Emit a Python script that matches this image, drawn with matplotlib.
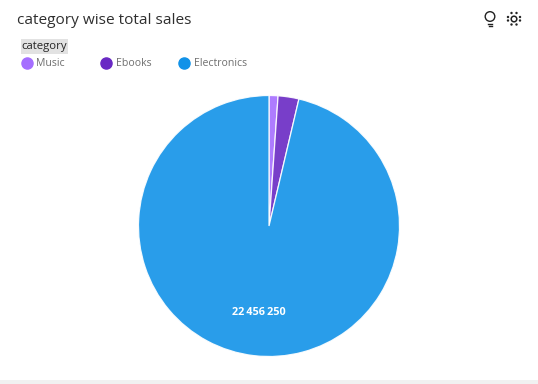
import matplotlib
matplotlib.use('Agg')
from matplotlib import pyplot as plt
from matplotlib.lines import Line2D
from matplotlib.patches import Circle, Rectangle

plt.rcParams['font.family'] = ['Open Sans', 'DejaVu Sans']

# Load our data
categories = ['Music', 'Ebooks', 'Electronics']
total_sales = [259000, 600000, 22456250]
colors = ['#a56eff', '#6929c4', '#1192e8']
legend_title = 'category'
chart_title = 'category wise total sales'

W, H = 538, 384
fig = plt.figure(figsize=(W / 100, H / 100), dpi=100, facecolor='white')

# overlay in pixel coords for title, legend and icons
ui = fig.add_axes([0, 0, 1, 1])
ui.set_xlim(0, W)
ui.set_ylim(H, 0)
ui.axis('off')

ui.add_patch(Rectangle((0, 380), W, 4, color='#f1f1f1', lw=0))

ui.text(17, 20, chart_title, fontsize=11.1, color='#2f2f2f', va='center', ha='left')

ui.add_patch(Rectangle((21, 39), 47, 15, color='#e2e2e2', lw=0))
ui.text(21, 47, legend_title, fontsize=8.2, color='#262626', va='center', ha='left')

legend_x = [26.5, 106, 184]
for name, col, lx in zip(categories, colors, legend_x):
    ui.add_line(Line2D([lx], [63], marker='o', ms=8, mfc=col, mec=col, ls=''))
    ui.text(round(lx) + 10, 63, name, fontsize=7.6, color='#6f6f6f', va='center', ha='left')

# lightbulb
ui.add_patch(Circle((490, 16.5), 4.8, fc='none', ec='#222222', lw=1))
ui.add_line(Line2D([488, 492], [23.7, 23.7], color='#222222', lw=1))
ui.add_line(Line2D([488.5, 491.5], [25.7, 25.7], color='#222222', lw=1))

# settings icon
ui.add_patch(Circle((514, 19), 2.8, fc='none', ec='#222222', lw=1.1))
for dx, dy in [(-2.5, -6), (2.5, -6), (-6, -2), (6, -2), (-6, 1.5), (6, 1.5), (-2.5, 5.5), (2.5, 5.5)]:
    ui.add_patch(Circle((514 + dx, 19 + dy), 1.2, fc='#222222', ec='none'))

# pie, 130 px radius around (269, 226)
R = 130.5
ax = fig.add_axes([(269 - R) / W, 1 - (226 + R) / H, 2 * R / W, 2 * R / H])
labels = ['', '', f'{total_sales[2]:,}'.replace(',', '\u2009')]
wedges, texts = ax.pie(total_sales, colors=colors, startangle=90, counterclock=False,
                       radius=1.0, labels=labels, labeldistance=0.67,
                       wedgeprops={'edgecolor': 'white', 'linewidth': 0.9, 'alpha': 0.9},
                       textprops={'color': 'white', 'fontsize': 7.8, 'fontweight': 'bold'})
for t in texts:
    t.set_ha('center')
    t.set_va('center')
ax.set_xlim(-1, 1)
ax.set_ylim(-1, 1)

fig.savefig('out.png', dpi=100)
